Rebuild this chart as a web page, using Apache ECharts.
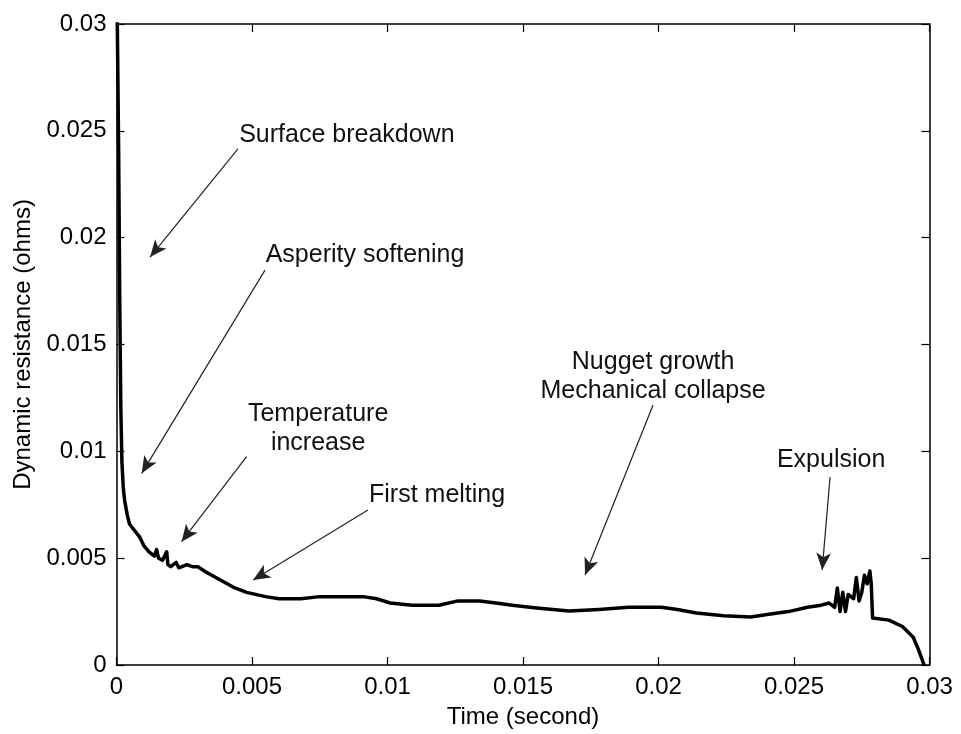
<!DOCTYPE html>
<html>
<head>
<meta charset="utf-8">
<script src="https://cdn.jsdelivr.net/npm/echarts@6/dist/echarts.min.js"></script>
<style>
html,body{margin:0;padding:0;background:#fff;}
#chart{width:961px;height:734px;}
</style>
</head>
<body>
<div id="chart"></div>
<script>
// ---- data ----
var times = [0, 0.00003, 0.00008, 0.00012, 0.00016, 0.0002, 0.00025, 0.0003, 0.0004, 0.00048,
  0.0006, 0.00085, 0.001, 0.0012, 0.0014, 0.00148, 0.00155, 0.0017, 0.00185, 0.0019,
  0.002, 0.0022, 0.0023, 0.0026, 0.0028, 0.003, 0.0033, 0.0038, 0.0043, 0.0048,
  0.0055, 0.006, 0.0068, 0.0075, 0.0086, 0.0091, 0.0096, 0.0101, 0.0109, 0.0119,
  0.0126, 0.0134, 0.014, 0.0146, 0.0155, 0.0167, 0.0178, 0.0189, 0.0201, 0.0207,
  0.0214, 0.0224, 0.0234, 0.0242, 0.0248, 0.0255, 0.026, 0.0263, 0.0265, 0.0266,
  0.0267, 0.0268, 0.0269, 0.027, 0.0272, 0.0273, 0.0274, 0.0275, 0.0276, 0.0277,
  0.0278, 0.02785, 0.0279, 0.0285, 0.029, 0.0294, 0.0296, 0.0298];
var resistance = [0.032, 0.030, 0.024, 0.017, 0.012, 0.0095, 0.0083, 0.0077, 0.0070, 0.0066,
  0.0064, 0.0060, 0.0056, 0.0053, 0.0051, 0.0054, 0.0050, 0.0049, 0.0053, 0.0047,
  0.0046, 0.0048, 0.00455, 0.0047, 0.0046, 0.0046, 0.00435, 0.0040, 0.00365, 0.0034,
  0.0032, 0.0031, 0.0031, 0.0032, 0.0032, 0.0032, 0.0031, 0.0029, 0.0028, 0.0028,
  0.0030, 0.0030, 0.0029, 0.0028, 0.00267, 0.00253, 0.0026, 0.0027, 0.0027, 0.0026,
  0.00243, 0.0023, 0.00225, 0.0024, 0.0025, 0.0027, 0.0028, 0.0029, 0.0027, 0.0036,
  0.0025, 0.0034, 0.0025, 0.0033, 0.0031, 0.0041, 0.0030, 0.0034, 0.0042, 0.0038,
  0.0044, 0.0038, 0.0022, 0.0021, 0.0018, 0.0013, 0.0007, 0.0];

var xTicks = [0, 0.005, 0.01, 0.015, 0.02, 0.025, 0.03];
var yTicks = [0, 0.005, 0.01, 0.015, 0.02, 0.025, 0.03];

var noteTexts = ['Surface breakdown', 'Asperity softening', 'Temperature\nincrease',
  'First melting', 'Nugget growth\nMechanical collapse', 'Expulsion'];
var noteX = [0.0085, 0.00917, 0.00744, 0.01183, 0.0198, 0.02637];
var noteY = [0.0248, 0.01919, 0.01105, 0.00796, 0.01348, 0.00959];
var arrowFromX = [0.00448, 0.00548, 0.0048, 0.00928, 0.0198, 0.02633];
var arrowFromY = [0.02415, 0.01848, 0.00975, 0.00725, 0.01217, 0.0088];
var arrowToX = [0.00124, 0.00093, 0.0024, 0.00504, 0.01729, 0.02604];
var arrowToY = [0.01909, 0.00897, 0.00577, 0.00398, 0.00421, 0.00445];

// ---- chart ----
var FONT = '"Liberation Sans", Arial, sans-serif';
var chart = echarts.init(document.getElementById('chart'));

var lineData = times.map(function (t, i) { return [t, resistance[i]]; });
var arrowData = arrowFromX.map(function (x, i) {
  return [{coord: [x, arrowFromY[i]]}, {coord: [arrowToX[i], arrowToY[i]]}];
});
var noteData = noteTexts.map(function (txt, i) {
  return {name: txt, coord: [noteX[i], noteY[i]], value: txt};
});

function axisBase(pos, showLabel) {
  return {
    type: 'value', position: pos, min: 0, max: 0.03, interval: 0.005,
    axisLine: {show: true, onZero: false, lineStyle: {color: '#000', width: 1.5}},
    axisTick: {show: true, inside: true, length: 8, lineStyle: {color: '#000', width: 1.2}},
    splitLine: {show: false},
    axisLabel: {show: showLabel, color: '#000', fontSize: 24, fontFamily: FONT, margin: 10,
      formatter: function (v) { return String(v); }}
  };
}

var xBottom = axisBase('bottom', true);
xBottom.name = 'Time (second)';
xBottom.nameLocation = 'middle';
xBottom.nameGap = 40;
xBottom.nameTextStyle = {color: '#000', fontSize: 24, fontFamily: FONT};
var xTop = axisBase('top', false);

var yLeft = axisBase('left', true);
yLeft.name = 'Dynamic resistance (ohms)';
yLeft.nameLocation = 'middle';
yLeft.nameGap = 76;
yLeft.nameTextStyle = {color: '#000', fontSize: 24, fontFamily: FONT};
var yRight = axisBase('right', false);

chart.setOption({
  backgroundColor: '#fff',
  animation: false,
  grid: {left: 116.5, right: 31.5, top: 24, bottom: 69, containLabel: false},
  xAxis: [xBottom, xTop],
  yAxis: [yLeft, yRight],
  series: [{
    type: 'line',
    xAxisIndex: 0, yAxisIndex: 0,
    data: lineData,
    showSymbol: false,
    clip: true,
    lineStyle: {color: '#000', width: 3.5, join: 'round'},
    markLine: {
      silent: true,
      symbol: ['none', 'arrow'],
      symbolSize: [11, 17],
      label: {show: false},
      lineStyle: {color: '#222', width: 1.2, type: 'solid'},
      data: arrowData
    },
    markPoint: {
      silent: true,
      symbol: 'circle',
      symbolSize: 0,
      itemStyle: {color: 'transparent'},
      label: {
        show: true, position: 'inside', color: '#111', fontSize: 25, fontFamily: FONT,
        lineHeight: 29, align: 'center', verticalAlign: 'middle',
        formatter: function (p) { return p.name; }
      },
      data: noteData
    }
  }]
});
</script>
</body>
</html>
